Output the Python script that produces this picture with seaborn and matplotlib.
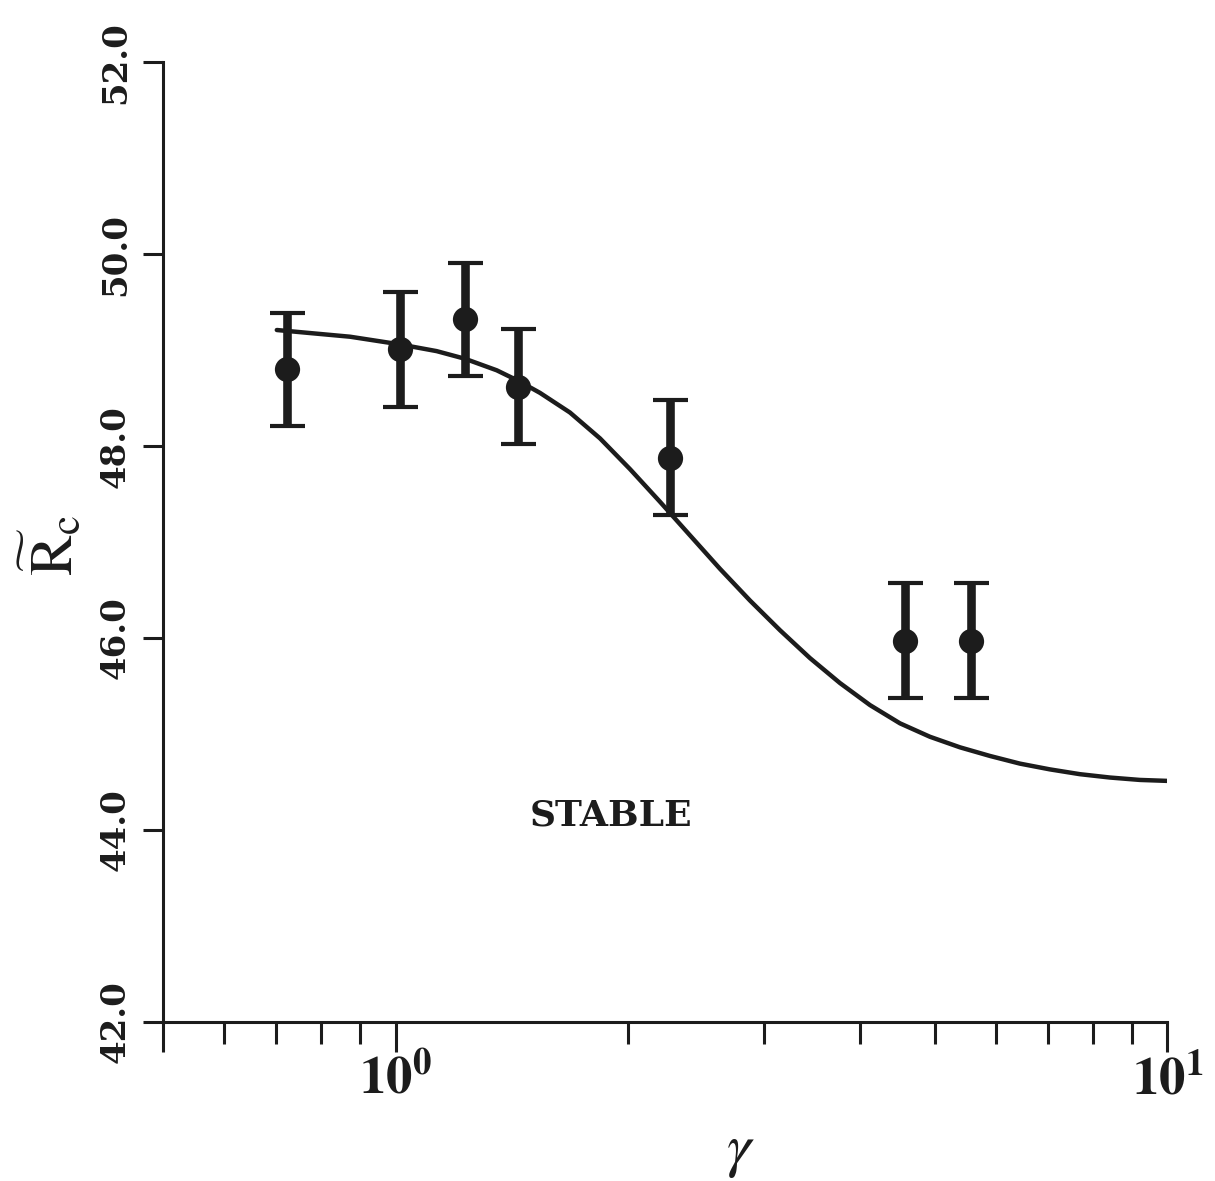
import numpy as np
import pandas as pd
import matplotlib
matplotlib.use("Agg")
import matplotlib.pyplot as plt
import seaborn as sns
from matplotlib.ticker import FixedLocator, FixedFormatter, NullFormatter

# ---- data ----
gamma_pts = [0.723, 1.013, 1.23, 1.442, 2.267, 4.57, 5.56]
rc_pts = [48.80, 49.01, 49.32, 48.62, 47.88, 45.97, 45.97]
rc_err = [0.59, 0.60, 0.59, 0.60, 0.60, 0.60, 0.60]

curve_gamma = [0.7015, 0.873, 1.013, 1.130, 1.230, 1.352, 1.442, 1.538, 1.682,
               1.840, 2.012, 2.200, 2.406, 2.632, 2.878, 3.148, 3.442, 3.764,
               4.117, 4.502, 4.923, 5.384, 5.888, 6.439, 7.041, 7.700, 8.422,
               9.210, 10.0]
curve_rc = [49.21, 49.14, 49.06, 48.99, 48.91, 48.79, 48.68, 48.555, 48.35,
            48.08, 47.76, 47.42, 47.07, 46.72, 46.39, 46.08, 45.79, 45.53,
            45.30, 45.11, 44.97, 44.86, 44.77, 44.69, 44.63, 44.58, 44.545,
            44.52, 44.51]

y_ticks = [42, 44, 46, 48, 50, 52]
y_ticklabels = ["42.0", "44.0", "46.0", "48.0", "50.0", "52.0"]
x_major = [0.5, 1, 10]
x_major_labels = ["", r"$\mathbf{10^0}$", r"$\mathbf{10^1}$"]
x_minor = [0.6, 0.7, 0.8, 0.9, 2, 3, 4, 5, 6, 7, 8, 9]

pts_df = pd.DataFrame({"gamma": gamma_pts, "Rc": rc_pts, "err": rc_err})
curve_df = pd.DataFrame({"gamma": curve_gamma, "Rc": curve_rc})

sns.set_theme(style="ticks")
plt.rcParams["font.family"] = ["DejaVu Serif", "DejaVu Sans"]
plt.rcParams["mathtext.fontset"] = "stix"

INK = "#1c1c1c"

fig = plt.figure(figsize=(12.15, 11.81), dpi=100)
fig.patch.set_facecolor("white")
ax = fig.add_axes([0.1344, 0.1349, 0.8265, 0.8123])
ax.set_facecolor("white")

sns.lineplot(data=curve_df, x="gamma", y="Rc", ax=ax, color=INK, lw=3.2,
             sort=False, estimator=None, solid_capstyle="round",
             solid_joinstyle="round")
ax.errorbar(pts_df["gamma"], pts_df["Rc"], yerr=pts_df["err"], fmt="none",
            ecolor=INK, elinewidth=6.2, capsize=12.6, capthick=3.0, zorder=3)
sns.scatterplot(data=pts_df, x="gamma", y="Rc", ax=ax, color=INK, s=330,
                edgecolor=INK, linewidth=0, zorder=4)

ax.set_xscale("log")
ax.set_xlim(0.5, 10)
ax.set_ylim(42, 52)

ax.xaxis.set_major_locator(FixedLocator(x_major))
ax.xaxis.set_major_formatter(FixedFormatter(x_major_labels))
ax.xaxis.set_minor_locator(FixedLocator(x_minor))
ax.xaxis.set_minor_formatter(NullFormatter())
ax.set_yticks(y_ticks)
ax.set_yticklabels(y_ticklabels, rotation=90, va="center",
                   fontfamily="DejaVu Serif", fontweight="bold", fontsize=24.5)

for lab in ax.get_xticklabels():
    lab.set_fontsize(38)

ax.tick_params(axis="x", which="major", direction="out", length=21.5, width=2.2,
               color=INK, pad=2, labelcolor=INK)
ax.tick_params(axis="x", which="minor", direction="out", length=16, width=2.2,
               color=INK)
ax.tick_params(axis="y", which="major", direction="out", length=14.5, width=2.2,
               color=INK, pad=8, labelcolor=INK)

for side in ["top", "right"]:
    ax.spines[side].set_visible(False)
for side in ["left", "bottom"]:
    ax.spines[side].set_linewidth(2.2)
    ax.spines[side].set_color(INK)

ax.set_xlabel("")
ax.set_ylabel("")
ax.grid(False)

ax.text(1.9, 44.15, "STABLE", ha="center", va="center", fontsize=26,
        fontweight="bold", fontfamily="DejaVu Serif", color=INK)

fig.text(740 / 1215, 1 - 1150 / 1181, r"$\gamma$", ha="center", va="center",
         fontsize=44, color=INK)
fig.text(52 / 1215, 1 - 545 / 1181, r"$\widetilde{\mathrm{R}}_\mathrm{c}$",
         rotation=90, ha="center", va="center", fontsize=44, color=INK)

fig.savefig("out.png", dpi=100, facecolor="white")
